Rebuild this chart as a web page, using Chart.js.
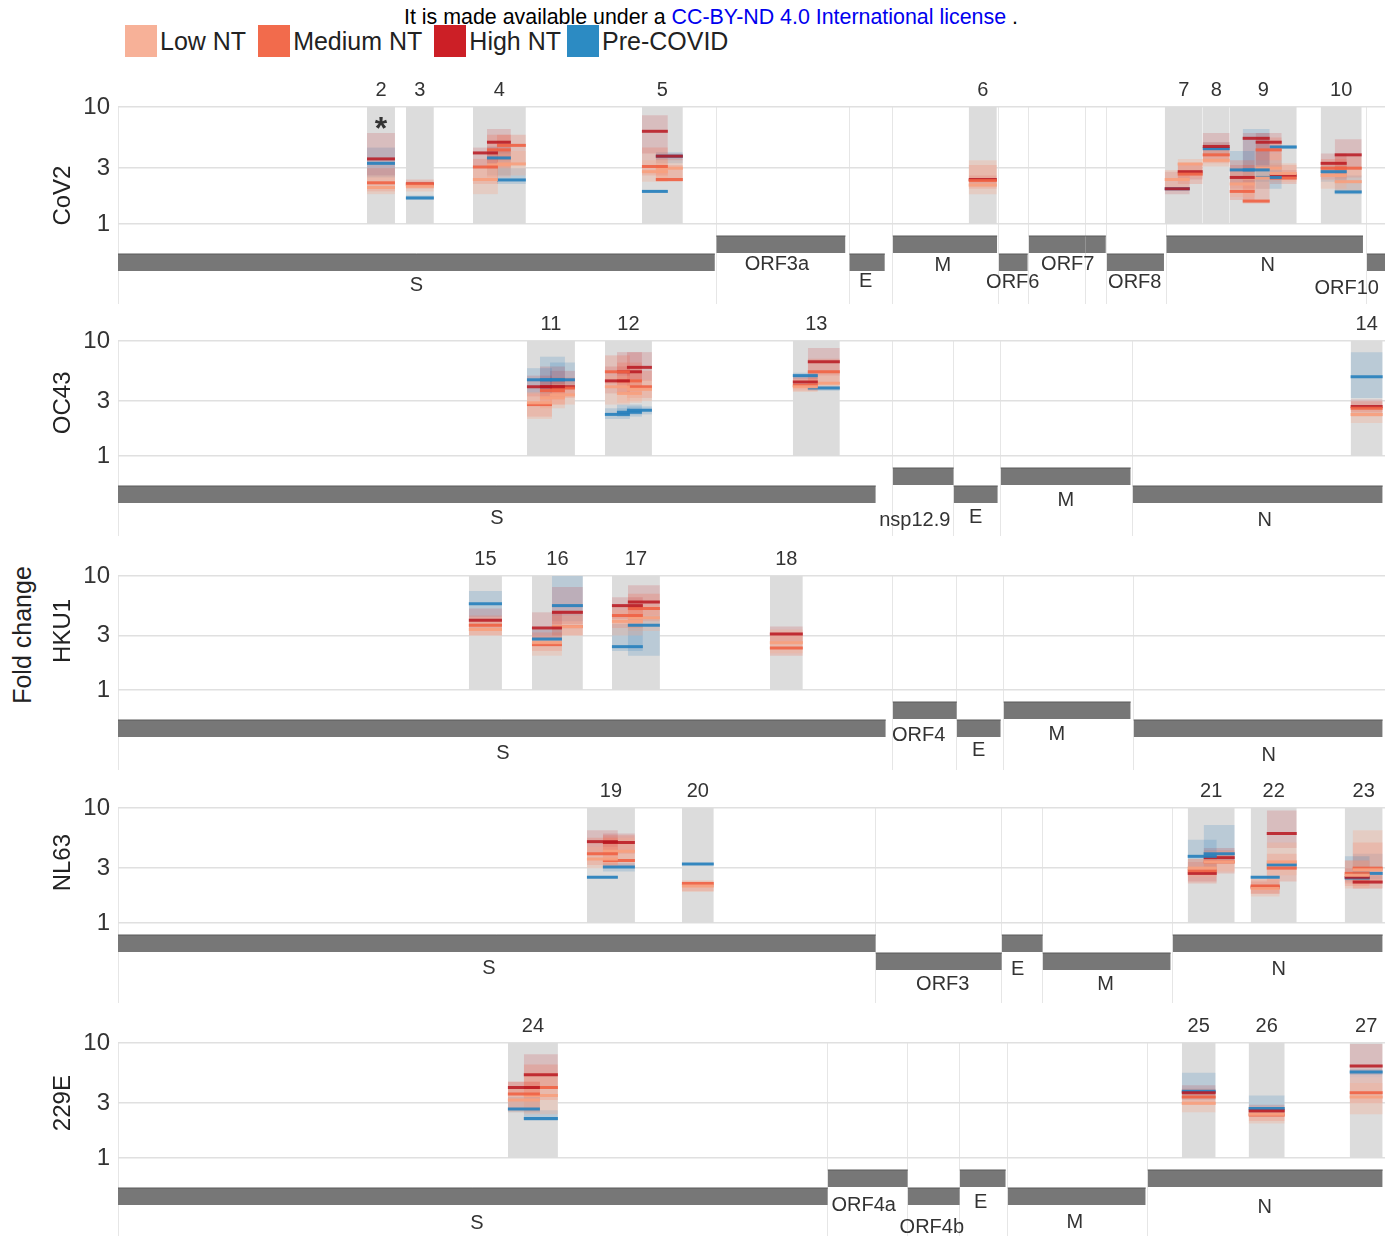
<!DOCTYPE html>
<html>
<head>
<meta charset="utf-8">
<script src="https://cdn.jsdelivr.net/npm/chart.js@4.4.0/dist/chart.umd.min.js"></script>
<style>
  html, body { margin:0; padding:0; background:#fff; }
  body { width:1388px; height:1236px; position:relative; overflow:hidden; font-family:"Liberation Sans", Arial, sans-serif; }
  #note { position:absolute; left:404px; top:5px; font-size:21.4px; color:#000; white-space:nowrap; }
  #note a { color:#0000ee; text-decoration:none; }
  #legend { position:absolute; left:125px; top:25px; display:flex; align-items:center; font-size:25px; color:#222; white-space:nowrap; }
  #legend .sw { width:32px; height:32px; margin-right:3px; }
  #legend .lab { margin-right:12px; }
  #fold { position:absolute; left:22px; top:635px; transform:translate(-50%,-50%) rotate(-90deg); font-size:25px; color:#222; white-space:nowrap; }
  canvas { position:absolute; left:0; }
</style>
</head>
<body>
<div id="note">It is made available under a <a>CC-BY-ND 4.0 International license</a> .</div>
<div id="legend"></div>
<div id="fold">Fold change</div>

<script>
// ---------------- DATA ----------------
const groups = ['Low NT', 'Medium NT', 'High NT', 'Pre-COVID'];
const yTicks = [1, 3, 10];
const xMax = 8111; // nt from start of S

// genes: [name, start, end, row]  (row U = upper track, D = lower track)
const cov2Genes = [['S',0,3821,'D'],['ORF3a',3830,4657,'U'],['E',4682,4909,'D'],['M',4960,5628,'U'],['ORF6',5639,5824,'D'],['ORF7a',5831,6196,'U'],['ORF7b',6196,6324,'U'],['ORF8',6331,6696,'D'],['N',6711,7970,'U'],['ORF10',7995,8111,'D']];
const oc43Genes = [['S',0,4851,'D'],['nsp12.9',4960,5350,'U'],['E',5350,5632,'D'],['M',5651,6483,'U'],['N',6496,8096,'D']];
const hku1Genes = [['S',0,4915,'D'],['ORF4',4960,5370,'U'],['E',5370,5651,'D'],['M',5670,6483,'U'],['N',6502,8096,'D']];
const nl63Genes = [['S',0,4851,'U'],['ORF3',4851,5658,'D'],['E',5658,5920,'U'],['M',5920,6739,'D'],['N',6752,8096,'U']];
const e229Genes = [['S',0,4544,'D'],['ORF4a',4544,5056,'U'],['ORF4b',5056,5389,'D'],['E',5389,5683,'U'],['M',5696,6579,'D'],['N',6592,8096,'U']];

// gene labels: [text, position, track value]
const cov2Labels = [['S',1910,1.9],['ORF3a',4218,4.0],['E',4787,2.3],['M',5280,3.9],['ORF6',5728,2.2],['ORF7',6080,4.0],['ORF8',6509,2.2],['N',7360,3.9],['ORF10',7866,1.6]];
const oc43Labels = [['S',2425,1.8],['nsp12.9',5101,1.6],['E',5491,1.9],['M',6067,3.6],['N',7341,1.6]];
const hku1Labels = [['S',2464,1.7],['ORF4',5126,3.5],['E',5510,2.0],['M',6010,3.6],['N',7366,1.5]];
const nl63Labels = [['S',2374,3.5],['ORF3',5280,1.9],['E',5760,3.4],['M',6323,1.9],['N',7430,3.4]];
const e229Labels = [['S',2298,1.5],['ORF4a',4774,3.3],['ORF4b',5210,1.1],['E',5523,3.6],['M',6125,1.6],['N',7341,3.1]];

// peptides: [id, start, end, significant]
const cov2Peptides = [[2,1594,1773,true],[3,1843,2022],[4,2272,2611],[5,3354,3616],[6,5446,5626],[7,6701,6944],[8,6944,7117],[9,7117,7546],[10,7699,7962]];
const oc43Peptides = [[11,2618,2925],[12,3117,3418],[13,4320,4621],[14,7891,8096]];
const hku1Peptides = [[15,2246,2458],[16,2650,2976],[17,3162,3469],[18,4173,4384]];
const nl63Peptides = [[19,3002,3309],[20,3610,3814],[21,6848,7149],[22,7251,7546],[23,7853,8096]];
const e229Peptides = [[24,2496,2816],[25,6810,7027],[26,7238,7469],[27,7885,8096]];

// fold-change marks: [x0, x1, group, median, q1, q3]
const cov2Marks = [
  [1594,1773,0,2.05,1.8,2.6],[1594,1773,1,2.25,1.9,3.0],[1594,1773,2,3.6,2.6,6.0],[1594,1773,3,3.3,2.5,4.5],
  [1843,2022,0,2.1,1.9,2.3],[1843,2022,1,2.2,2.0,2.4],[1843,2022,2,2.2,2.1,2.3],[1843,2022,3,1.67,1.6,1.75],
  [2272,2432,0,2.4,1.8,3.0],[2272,2432,1,3.07,2.2,3.6],[2272,2432,2,4.05,3.0,4.5],
  [2362,2515,0,3.2,2.5,4.0],[2362,2515,1,4.3,3.0,5.8],[2362,2515,2,5.0,3.5,6.5],[2362,2515,3,3.67,2.6,4.6],
  [2426,2611,0,3.26,2.6,4.2],[2426,2611,1,4.7,3.3,5.8],[2426,2611,3,2.38,2.2,3.0],
  [3354,3520,0,2.8,2.3,3.5],[3354,3520,1,3.1,2.6,4.5],[3354,3520,2,6.2,4.0,8.5],[3354,3520,3,1.9,1.85,1.95],
  [3443,3616,0,3.0,2.4,3.6],[3443,3616,1,2.4,2.3,3.2],[3443,3616,2,3.8,3.5,4.0],[3443,3616,3,3.8,3.3,4.1],
  [5446,5626,0,2.15,1.8,3.5],[5446,5626,1,2.35,2.0,3.2],[5446,5626,2,2.4,2.2,2.6],
  [6701,6861,0,2.4,2.0,2.9],[6701,6861,2,2.0,1.8,2.8],[6701,6861,3,2.0,1.95,2.05],
  [6784,6944,0,3.26,2.5,3.6],[6784,6944,1,2.67,2.2,3.3],[6784,6944,2,2.8,2.4,3.3],
  [6944,7117,0,3.5,3.1,4.3],[6944,7117,1,3.9,3.3,5.0],[6944,7117,2,4.6,3.6,6.0],[6944,7117,3,4.4,3.8,5.0],
  [7117,7277,0,2.2,1.7,3.0],[7117,7277,1,1.9,1.6,3.5],[7117,7277,2,2.5,2.0,3.2],[7117,7277,3,2.9,2.2,4.2],
  [7200,7373,0,2.47,2.0,3.2],[7200,7373,1,1.57,1.5,2.4],[7200,7373,2,5.4,3.0,6.0],[7200,7373,3,2.9,2.3,6.5],
  [7283,7450,0,3.0,2.5,4.0],[7283,7450,1,4.3,3.0,5.5],[7283,7450,2,5.0,3.5,6.0],[7283,7450,3,2.5,2.0,3.5],
  [7373,7546,0,2.7,2.3,3.3],[7373,7546,1,2.47,2.2,3.2],[7373,7546,2,2.6,2.4,2.9],[7373,7546,3,4.55,4.4,4.7],
  [7699,7866,0,2.6,2.0,3.4],[7699,7866,1,3.0,2.4,3.6],[7699,7866,2,3.3,2.6,4.0],[7699,7866,3,2.8,2.3,3.2],
  [7789,7962,0,2.3,1.9,3.0],[7789,7962,1,3.0,2.5,3.8],[7789,7962,2,3.9,3.0,5.3],[7789,7962,3,1.88,1.8,2.6]
];
const oc43Marks = [
  [2618,2778,0,2.9,2.1,3.6],[2618,2778,1,2.8,2.2,3.5],[2618,2778,2,4.0,3.3,5.0],[2618,2778,3,4.6,3.5,5.8],
  [2701,2861,0,3.2,2.6,4.2],[2701,2861,1,3.7,2.8,4.5],[2701,2861,2,4.0,3.2,6.0],[2701,2861,3,4.6,3.8,7.3],
  [2765,2925,0,3.4,2.8,4.2],[2765,2925,1,3.9,3.2,4.8],[2765,2925,2,4.0,3.4,5.5],[2765,2925,3,4.6,3.8,6.5],
  [3117,3277,0,4.0,2.8,5.0],[3117,3277,1,5.4,4.2,7.5],[3117,3277,2,4.5,3.5,6.0],[3117,3277,3,2.3,2.1,2.6],
  [3194,3354,0,3.5,2.9,4.5],[3194,3354,1,4.5,3.6,6.5],[3194,3354,2,5.4,4.0,8.0],[3194,3354,3,2.4,2.2,2.8],
  [3258,3418,0,3.8,3.0,4.6],[3258,3418,1,4.0,3.2,5.5],[3258,3418,2,5.9,4.5,8.0],[3258,3418,3,2.5,2.3,2.7],
  [4320,4480,0,4.0,3.6,4.6],[4320,4480,1,4.1,3.7,4.8],[4320,4480,2,4.4,4.0,5.0],[4320,4480,3,5.0,4.7,5.3],
  [4416,4621,0,4.3,3.8,5.5],[4416,4621,1,5.4,4.2,7.0],[4416,4621,2,6.6,5.0,8.7],[4416,4621,3,3.9,3.7,4.1],
  [7891,8096,0,2.3,1.94,2.7],[7891,8096,1,2.6,2.2,3.0],[7891,8096,2,2.7,2.4,3.1],[7891,8096,3,4.9,3.2,8.0]
];
const hku1Marks = [
  [2246,2458,0,3.4,3.0,4.0],[2246,2458,1,3.7,3.0,4.5],[2246,2458,2,4.1,3.5,5.2],[2246,2458,3,5.7,4.4,7.4],
  [2650,2842,0,2.6,2.0,3.0],[2650,2842,1,2.5,2.2,3.2],[2650,2842,2,3.5,2.8,4.8],[2650,2842,3,2.8,2.5,3.4],
  [2778,2976,0,3.6,3.0,4.5],[2778,2976,1,3.6,3.0,5.0],[2778,2976,2,4.8,3.8,8.0],[2778,2976,3,5.5,4.0,10],
  [3162,3360,0,4.0,3.0,5.0],[3162,3360,1,4.5,3.5,5.5],[3162,3360,2,5.5,4.2,6.5],[3162,3360,3,2.4,2.2,3.8],
  [3264,3469,0,4.3,3.3,5.5],[3264,3469,1,5.2,4.0,7.0],[3264,3469,2,5.9,4.5,8.3],[3264,3469,3,3.7,2.0,4.5],
  [4173,4384,0,2.6,2.1,3.4],[4173,4384,1,2.33,2.0,3.2],[4173,4384,2,3.1,2.6,3.6]
];
const nl63Marks = [
  [3002,3200,0,3.6,3.0,4.6],[3002,3200,1,4.0,3.2,5.5],[3002,3200,2,5.1,4.0,6.4],[3002,3200,3,2.5,2.45,2.55],
  [3104,3309,0,4.2,3.4,5.5],[3104,3309,1,3.5,3.1,5.8],[3104,3309,2,5.0,4.0,6.0],[3104,3309,3,3.07,2.8,3.3],
  [3610,3814,0,2.1,1.86,2.35],[3610,3814,1,2.2,1.9,2.3],[3610,3814,3,3.26,3.2,3.32],
  [6848,7034,0,3.0,2.5,3.6],[6848,7034,1,2.85,2.2,3.6],[6848,7034,2,2.7,2.3,3.4],[6848,7034,3,3.8,2.8,5.3],
  [6950,7149,0,3.4,2.8,4.2],[6950,7149,1,3.4,2.7,4.3],[6950,7149,2,3.7,3.3,4.5],[6950,7149,3,4.0,3.3,7.1],
  [7251,7437,0,2.0,1.7,2.4],[7251,7437,1,2.1,1.8,2.4],[7251,7437,2,2.05,1.8,2.3],[7251,7437,3,2.5,2.45,2.55],
  [7354,7546,0,3.4,2.6,5.0],[7354,7546,1,3.0,2.3,4.0],[7354,7546,2,6.0,4.5,9.5],[7354,7546,3,3.2,3.0,3.4],
  [7853,8013,0,2.6,2.0,3.5],[7853,8013,1,2.7,2.1,3.5],[7853,8013,2,2.5,2.2,3.0],[7853,8013,3,2.46,2.3,3.8],
  [7904,8096,0,2.9,2.0,6.4],[7904,8096,1,3.0,2.3,5.0],[7904,8096,2,2.27,2.0,2.6],[7904,8096,3,2.7,2.4,4.0]
];
const e229Marks = [
  [2496,2701,0,3.2,2.5,4.2],[2496,2701,1,3.6,2.6,4.6],[2496,2701,2,4.1,3.6,4.6],[2496,2701,3,2.67,2.5,3.4],
  [2598,2816,0,3.5,2.4,5.5],[2598,2816,1,4.1,3.2,6.5],[2598,2816,2,5.3,4.0,8.0],[2598,2816,3,2.2,2.1,2.6],
  [6810,7027,0,3.0,2.5,3.5],[6810,7027,1,3.4,2.9,4.0],[6810,7027,2,3.7,3.3,4.3],[6810,7027,3,3.8,3.2,5.5],
  [7238,7469,0,2.4,2.0,2.8],[7238,7469,1,2.36,2.1,2.7],[7238,7469,2,2.56,2.3,2.9],[7238,7469,3,2.7,2.4,3.5],
  [7885,8096,0,3.4,2.4,4.5],[7885,8096,1,3.7,3.0,5.0],[7885,8096,2,6.3,5.0,9.8],[7885,8096,3,5.6,5.3,5.9]
];

// ---------------- STYLE ----------------
const FONT = '"Liberation Sans", Arial, sans-serif';
const legendColors = ['#f7b198', '#f26b4c', '#cc1f26', '#2c8bc3'];
const lineColors = ['rgba(247,160,128,0.95)', 'rgba(240,98,68,0.9)', 'rgba(185,22,32,0.85)', 'rgba(38,128,188,0.9)'];
const boxColors = ['rgba(250,168,140,0.30)', 'rgba(242,105,78,0.24)', 'rgba(200,30,40,0.16)', 'rgba(50,130,190,0.20)'];
const TRACK = { U: [5.1, 6.8], D: [3.3, 5.0] };

const panels = [
  { name:'CoV2', titleAt:1.75, genes:cov2Genes, labels:cov2Labels, peptides:cov2Peptides, marks:cov2Marks, top:107, h:117 },
  { name:'OC43', titleAt:2.9,  genes:oc43Genes, labels:oc43Labels, peptides:oc43Peptides, marks:oc43Marks, top:341, h:115 },
  { name:'HKU1', titleAt:3.3,  genes:hku1Genes, labels:hku1Labels, peptides:hku1Peptides, marks:hku1Marks, top:576, h:114 },
  { name:'NL63', titleAt:3.35, genes:nl63Genes, labels:nl63Labels, peptides:nl63Peptides, marks:nl63Marks, top:808, h:115 },
  { name:'229E', titleAt:3.0,  genes:e229Genes, labels:e229Labels, peptides:e229Peptides, marks:e229Marks, top:1043, h:115 }
];

// legend (HTML)
const legendEl = document.getElementById('legend');
groups.forEach((gname, i) => {
  const sw = document.createElement('span'); sw.className = 'sw'; sw.style.background = legendColors[i];
  const lb = document.createElement('span'); lb.className = 'lab'; lb.textContent = gname;
  if (i === 2) lb.style.marginRight = '6px';
  legendEl.appendChild(sw); legendEl.appendChild(lb);
});

function makeAnnot(p) {
  return {
    id: 'annot',
    afterDraw(chart) {
      const { ctx, chartArea, scales } = chart;
      const x = scales.x, y = scales.y, g = scales.g;
      ctx.save();
      ctx.fillStyle = '#333';
      ctx.textAlign = 'center';
      ctx.textBaseline = 'middle';
      p.peptides.forEach(([id, s, e, star]) => {
        const cx = x.getPixelForValue((s + e) / 2);
        ctx.font = '20px ' + FONT;
        ctx.fillText(String(id), cx, chartArea.top - 17);
        if (star) {
          ctx.font = 'bold 32px ' + FONT;
          ctx.fillText('*', cx, y.getPixelForValue(6.4));
        }
      });
      ctx.font = '20px ' + FONT;
      p.labels.forEach(([t, pos, row]) => {
        ctx.fillText(t, x.getPixelForValue(pos), g.getPixelForValue(row));
      });
      // panel title
      ctx.save();
      ctx.translate(y.left + 63, y.getPixelForValue(p.titleAt));
      ctx.rotate(-Math.PI / 2);
      ctx.fillStyle = '#222';
      ctx.font = '24px ' + FONT;
      ctx.fillText(p.name, 0, 0);
      ctx.restore();
      ctx.restore();
    }
  };
}

function buildDatasets(p) {
  const ds = [];
  p.marks.forEach(([x0, x1, gi, med, lo, hi]) => {
    ds.push({ data:[{x:x0,y:med},{x:x1,y:med}], yAxisID:'y', borderColor:lineColors[gi], borderWidth:3, pointRadius:0, fill:false, order:1 });
    ds.push({ data:[{x:x0,y:hi},{x:x1,y:hi}], yAxisID:'y', borderColor:'transparent', borderWidth:0, pointRadius:0, fill:{value:lo}, backgroundColor:boxColors[gi], order:2 });
  });
  p.peptides.forEach(([id, s, e]) => {
    ds.push({ data:[{x:s,y:10},{x:e,y:10}], yAxisID:'y', borderColor:'transparent', borderWidth:0, pointRadius:0, fill:{value:1}, backgroundColor:'#dcdcdc', order:3 });
  });
  p.genes.forEach(([name, s, e, row]) => {
    const [b, t] = TRACK[row];
    ds.push({ label:name, data:[{x:s,y:t},{x:e,y:t}], yAxisID:'g', borderColor:'#5a5a5a', borderWidth:1, pointRadius:0, fill:{value:b}, backgroundColor:'#777777', order:3 });
  });
  return ds;
}

const PAD_TOP = 40, GENOME_H = 80, PAD_BOTTOM = 24;
panels.forEach(p => {
  const cv = document.createElement('canvas');
  const H = PAD_TOP + p.h + GENOME_H + PAD_BOTTOM;
  cv.width = 1388; cv.height = H;
  cv.style.top = (p.top - PAD_TOP) + 'px';
  cv.style.width = '1388px'; cv.style.height = H + 'px';
  document.body.appendChild(cv);
  new Chart(cv.getContext('2d'), {
    type: 'line',
    data: { datasets: buildDatasets(p) },
    options: {
      responsive: false,
      animation: false,
      events: [],
      devicePixelRatio: 1,
      layout: { padding: { top: PAD_TOP, left: 0, right: 3, bottom: PAD_BOTTOM } },
      plugins: { legend: { display:false }, tooltip: { enabled:false }, title: { display:false } },
      scales: {
        x: {
          type:'linear', min:0, max:xMax, position:'bottom',
          afterBuildTicks: s => { s.ticks = p.genes.map(gn => ({ value: gn[1] })); },
          afterFit: s => { s.height = 0; },
          ticks: { display:false },
          grid: { color:'#e6e6e6', lineWidth:1, drawTicks:false },
          border: { display:false }
        },
        g: {
          type:'linear', min:0, max:8, position:'left', stack:'v', stackWeight:GENOME_H,
          afterFit: s => { s.width = 118; },
          ticks: { display:false },
          grid: { display:false, drawTicks:false },
          border: { display:false }
        },
        y: {
          type:'logarithmic', min:1, max:10, position:'left', stack:'v', stackWeight:p.h,
          afterBuildTicks: s => { s.ticks = yTicks.map(v => ({ value: v })); },
          afterFit: s => { s.width = 118; },
          ticks: { callback: v => String(v), font:{ size:24, family:FONT }, color:'#333', padding:8, autoSkip:false },
          grid: { color:'#e0e0e0', lineWidth:1.5, drawTicks:false },
          border: { display:false }
        }
      }
    },
    plugins: [makeAnnot(p)]
  });
});
</script>
</body>
</html>
